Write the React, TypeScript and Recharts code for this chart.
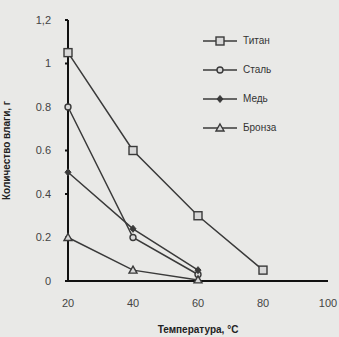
import { Line, LineChart, XAxis, YAxis } from "recharts";

// temperatures, °C
const temps = [20, 40, 60, 80];
// moisture amount, g (null = no point)
const titan = [1.05, 0.6, 0.3, 0.05];
const steel = [0.8, 0.2, 0.03, null];
const copper = [0.5, 0.24, 0.05, null];
const bronze = [0.2, 0.05, 0.005, null];

const xTicks = [20, 40, 60, 80, 100];
const yTicks = [0, 0.2, 0.4, 0.6, 0.8, 1, 1.2];
const yTickLabels = ["0", "0.2", "0.4", "0.6", "0.8", "1", "1,2"];

const series = [
  { key: "titan", name: "Титан", shape: "square" },
  { key: "steel", name: "Сталь", shape: "circle" },
  { key: "copper", name: "Медь", shape: "diamond" },
  { key: "bronze", name: "Бронза", shape: "triangle" },
];

const data = temps.map((t, i) => ({
  t,
  titan: titan[i],
  steel: steel[i],
  copper: copper[i],
  bronze: bronze[i],
}));

const INK = "#3a3a3a";
const FONT = "Liberation Sans, Arial, sans-serif";

function Marker({ shape, cx, cy }: { shape: string; cx: number; cy: number }) {
  if (cx == null || cy == null) return null;
  const common = { fill: "#d8d8d8", stroke: INK, strokeWidth: 1.4 };
  if (shape === "square")
    return <rect x={cx - 4} y={cy - 4} width={8} height={8} {...common} />;
  if (shape === "circle") return <circle cx={cx} cy={cy} r={3} {...common} />;
  if (shape === "diamond")
    return (
      <polygon
        points={`${cx},${cy - 3.5} ${cx + 3},${cy} ${cx},${cy + 3.5} ${cx - 3},${cy}`}
        fill={INK}
        stroke={INK}
      />
    );
  return (
    <polygon
      points={`${cx},${cy - 4} ${cx + 4},${cy + 3} ${cx - 4},${cy + 3}`}
      {...common}
    />
  );
}

// legend sits inside the plot area, top right, like the scan
function LegendBox() {
  return (
    <div
      style={{
        position: "absolute",
        left: 203,
        top: 26,
        fontFamily: FONT,
        fontSize: 10,
        color: "#333",
      }}
    >
      {series.map((s) => (
        <div key={s.key} style={{ display: "flex", alignItems: "center", height: 29 }}>
          <svg width={36} height={12}>
            <line x1={0} y1={6} x2={34} y2={6} stroke={INK} strokeWidth={1.5} />
            <Marker shape={s.shape} cx={17} cy={6} />
          </svg>
          <span style={{ marginLeft: 4 }}>{s.name}</span>
        </div>
      ))}
    </div>
  );
}

export default function App() {
  return (
    <div style={{ position: "absolute", left: 0, top: 0, width: 339, height: 337, background: "#e9e9e7" }}>
      <LineChart
        width={339}
        height={337}
        data={data}
        margin={{ top: 20, right: 11, bottom: 0, left: 0 }}
        style={{ fontFamily: FONT }}
      >
        <XAxis
          dataKey="t"
          type="number"
          domain={[20, 100]}
          ticks={xTicks}
          height={56}
          stroke="#111"
          strokeWidth={2}
          tickLine={false}
          tick={{ fill: "#444", fontSize: 11 }}
          tickMargin={12}
          label={{
            value: "Температура, °С",
            position: "insideBottom",
            offset: 4,
            fill: "#222",
            fontSize: 10,
            fontWeight: "bold",
          }}
        />
        <YAxis
          domain={[0, 1.2]}
          ticks={yTicks}
          width={68}
          stroke="#111"
          strokeWidth={2}
          tickSize={3}
          tickFormatter={(v: number) => yTickLabels[yTicks.indexOf(v)] ?? String(v)}
          tick={{ fill: "#444", fontSize: 11 }}
          tickMargin={14}
          label={{
            value: "Количество влаги, г",
            angle: -90,
            position: "insideLeft",
            offset: 6,
            fill: "#222",
            fontSize: 10,
            fontWeight: "bold",
            style: { textAnchor: "middle" },
          }}
        />
        {series.map((s) => (
          <Line
            key={s.key}
            dataKey={s.key}
            name={s.name}
            type="linear"
            stroke={INK}
            strokeWidth={1.5}
            connectNulls={false}
            isAnimationActive={false}
            dot={(p: any) => <Marker key={`${s.key}-${p.index}`} shape={s.shape} cx={p.cx} cy={p.cy} />}
          />
        ))}
      </LineChart>
      <LegendBox />
    </div>
  );
}
